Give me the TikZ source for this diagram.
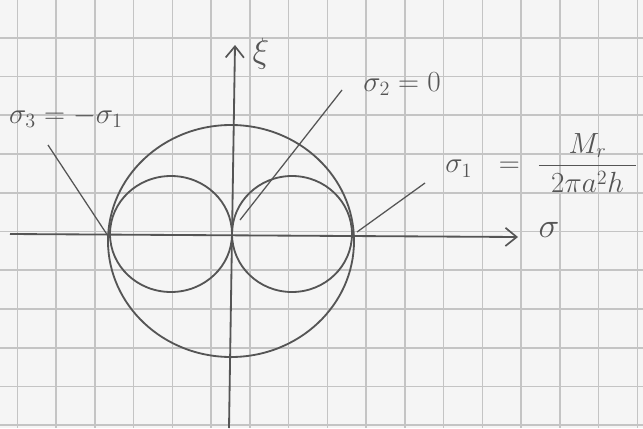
\documentclass[tikz,border=0pt]{standalone}
\usepackage{amsmath}
\usepackage{xcolor}
\usepackage{tikz}
\usetikzlibrary{arrows.meta, positioning}

\definecolor{ink}{HTML}{555555}
\definecolor{gridgray}{HTML}{C4C4C4}
\definecolor{paper}{HTML}{F5F5F5}

\begin{document}
\begin{tikzpicture}[
        x=0.025cm, y=-0.025cm,
        gridline/.style={draw=gridgray, line width=1.1pt},
        curve/.style={draw=ink, line width=1.3pt},
        axis/.style={draw=ink, line width=1.3pt, -{Straight Barb[length=8pt, width=13pt, line width=1.2pt]}},
        leader/.style={draw=ink, line width=0.9pt},
        lbl/.style={text=ink, inner sep=0pt, font=\fontsize{22}{26}\selectfont}
    ]
        % ================= PAPER AND GRID =================
        \fill[paper] (0,0) rectangle (643,428);
        \useasboundingbox (0,0) rectangle (643,428);
        \foreach \gx in {0,...,16}
            \draw[gridline] ({17.3+38.75*\gx},0) -- ++(0,428);
        \foreach \gy in {1,...,11}
            \draw[gridline] (0,{-1+38.75*\gy}) -- ++(643,0);

        % ================= AXES =================
        \coordinate (sigstart) at (10,234);
        \coordinate (sigend) at (518,237);
        \coordinate (taustart) at (229,428);
        \coordinate (tauend) at (235,45);
        \draw[axis] (sigstart) -- (sigend);
        \draw[axis] (taustart) -- (tauend);
        \node[lbl, font=\fontsize{30}{34}\selectfont] (sig) at (549,230) {$\sigma$};
        \node[lbl, font=\fontsize{30}{34}\selectfont] (tau) at (261,54) {$\xi$};

        % ================= MOHR CIRCLES =================
        \draw[curve] (231,241) ellipse [x radius=123, y radius=116];
        \draw[curve] (171,234) ellipse [x radius=61, y radius=58];
        \draw[curve] (292,234) ellipse [x radius=60, y radius=58];

        % ================= LABELS =================
        \node[lbl] (s3) at (66,117) {$\sigma_3 = -\sigma_1$};
        \node[lbl] (s2) at (402,84) {$\sigma_2 = 0$};
        \node[lbl, anchor=west] (s1) at (445,163)
            {$\sigma_1\hspace{0.6em}=\hspace{0.3em}\dfrac{M_r}{\hspace{0.4em}2\pi a^2 h\hspace{0.4em}}$};

        \coordinate (s3lead) at (48,145);
        \coordinate (s3pt) at (108,236);
        \coordinate (s2lead) at (342,90);
        \coordinate (s2pt) at (240,220);
        \coordinate (s1lead) at (425,183);
        \coordinate (s1pt) at (357,232);
        \draw[leader] (s3lead) -- (s3pt);
        \draw[leader] (s2lead) -- (s2pt);
        \draw[leader] (s1lead) -- (s1pt);
    \end{tikzpicture}
\end{document}
